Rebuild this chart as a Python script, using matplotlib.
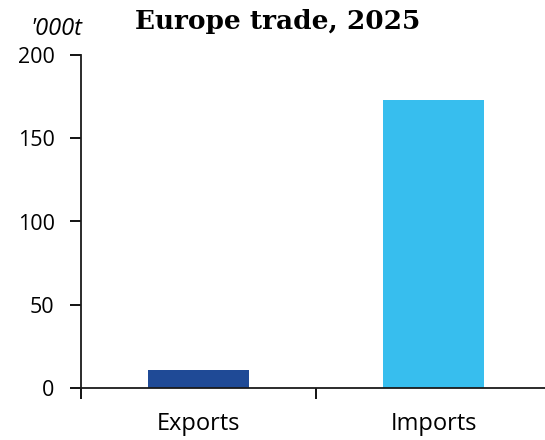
import matplotlib
matplotlib.use("Agg")
import matplotlib.pyplot as plt

categories = ["Exports", "Imports"]
values = [11, 173]
colors = ["#1F4A96", "#37BEEE"]
yticks = [0, 50, 100, 150, 200]

plt.rcParams['font.family'] = ['Open Sans', 'DejaVu Sans']

fig = plt.figure(figsize=(5.45, 4.4), dpi=100)
ax = fig.add_axes([81/545, 52/440, 470/545, 333/440])

x = list(range(len(categories)))
ax.bar(x, values, width=0.434, color=colors, zorder=2)

ax.set_xlim(-0.5, 1.5)
ax.set_ylim(0, 200)
ax.set_yticks(yticks)
ax.set_yticklabels([str(v) for v in yticks], fontsize=15.5)
ax.set_xticks(x)
ax.set_xticklabels(categories, fontsize=17)
ax.tick_params(axis='x', length=0, pad=17)
ax.set_xticks([-0.5, 0.5, 1.5], minor=True)
ax.tick_params(axis='x', which='minor', length=8, width=1.3, direction='out')
ax.tick_params(axis='y', length=8, width=1.3, direction='out', pad=11)

for s in ['top', 'right']:
    ax.spines[s].set_visible(False)
for s in ['left', 'bottom']:
    ax.spines[s].set_linewidth(1.3)
    ax.spines[s].set_color('#1a1a1a')

fig.text(82/545, 1 - 29/440, "'000t", ha='right', va='center', fontsize=17, style='italic')
fig.text(135/545, 1 - 22/440, "Europe trade, 2025", ha='left', va='center',
         fontsize=19, fontweight='bold', family=['DejaVu Serif'])

fig.savefig("out.png", dpi=100)
